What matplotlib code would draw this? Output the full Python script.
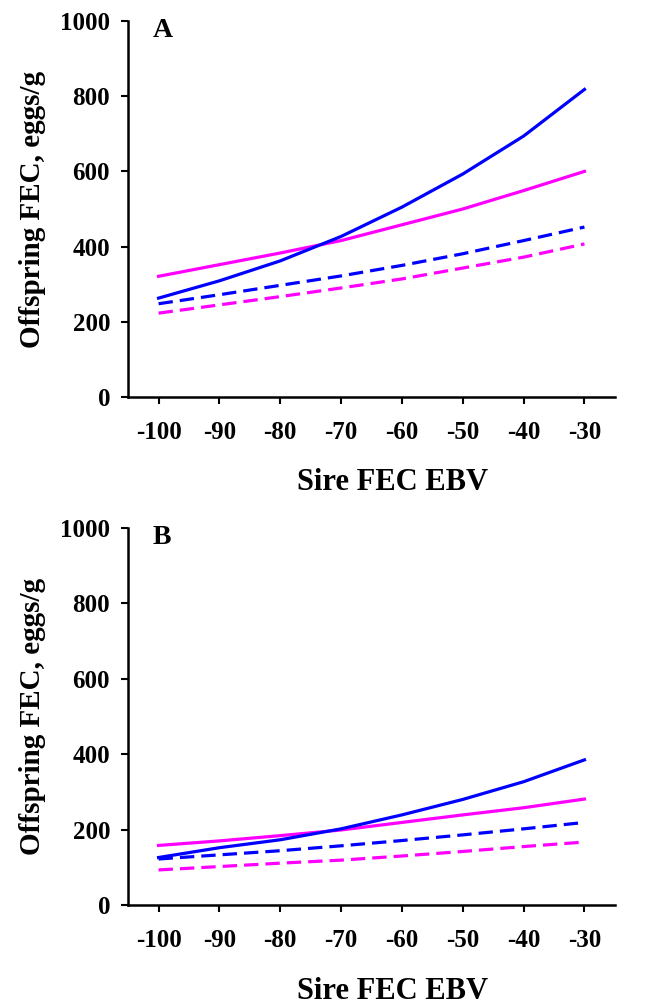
import matplotlib
matplotlib.use("Agg")
import matplotlib.pyplot as plt

plt.rcParams['font.family'] = ['Liberation Serif', 'DejaVu Serif']
plt.rcParams['font.weight'] = 'bold'
plt.rcParams['axes.unicode_minus'] = False

# Sire FEC EBV
sire_ebv = [-100, -90, -80, -70, -60, -50, -40, -30]

# Panel A
a_blue_solid = [263, 309, 362, 427, 505, 593, 694, 818]
a_magenta_solid = [321, 352, 383, 416, 458, 500, 549, 600]
a_blue_dashed = [248, 272, 297, 322, 350, 381, 416, 452]
a_magenta_dashed = [223, 245, 267, 290, 314, 343, 372, 407]

# Panel B
b_blue_solid = [126, 152, 173, 202, 239, 280, 327, 385]
b_magenta_solid = [158, 170, 184, 199, 219, 239, 258, 281]
b_blue_dashed = [122, 133, 144, 157, 171, 186, 202, 219]
b_magenta_dashed = [93, 102, 111, 119, 130, 142, 155, 167]

yticks = [0, 200, 400, 600, 800, 1000]

BLUE = '#0000ff'
MAGENTA = '#ff00ff'

fig = plt.figure(figsize=(6.64, 10), dpi=100)
ax_a = fig.add_axes([0.193, 0.603, 0.733, 0.376])
ax_b = fig.add_axes([0.193, 0.095, 0.733, 0.377])


def draw_panel(ax, label, blue_s, mag_s, blue_d, mag_d):
    lw = 2.3
    dash = (0, (4.5, 2.2))
    ax.plot(sire_ebv, mag_s, color=MAGENTA, lw=lw)
    ax.plot(sire_ebv, blue_s, color=BLUE, lw=lw)
    ax.plot(sire_ebv, mag_d, color=MAGENTA, lw=lw, linestyle=dash)
    ax.plot(sire_ebv, blue_d, color=BLUE, lw=lw, linestyle=dash)

    ax.set_xlim(-105, -25)
    ax.set_ylim(0, 1000)
    ax.set_xticks(sire_ebv)
    ax.set_yticks(yticks)
    ax.tick_params(axis='both', labelsize=18, width=1.5, length=5, direction='out')
    ax.tick_params(axis='x', pad=12)
    ax.tick_params(axis='y', pad=8)
    for t in ax.get_xticklabels() + ax.get_yticklabels():
        t.set_fontweight('bold')
    ax.spines['top'].set_visible(False)
    ax.spines['right'].set_visible(False)
    ax.spines['left'].set_linewidth(1.8)
    ax.spines['bottom'].set_linewidth(1.8)
    ax.set_xlabel('Sire FEC EBV', fontsize=22, fontweight='bold')
    ax.xaxis.set_label_coords(0.544, -0.19)
    ax.set_ylabel('Offspring FEC, eggs/g', fontsize=21, fontweight='bold', labelpad=10)
    ax.text(0.051, 1.008, label, transform=ax.transAxes, fontsize=20,
            fontweight='bold', va='top', ha='left')


draw_panel(ax_a, 'A', a_blue_solid, a_magenta_solid, a_blue_dashed, a_magenta_dashed)
draw_panel(ax_b, 'B', b_blue_solid, b_magenta_solid, b_blue_dashed, b_magenta_dashed)

fig.savefig('out.png', dpi=100)
